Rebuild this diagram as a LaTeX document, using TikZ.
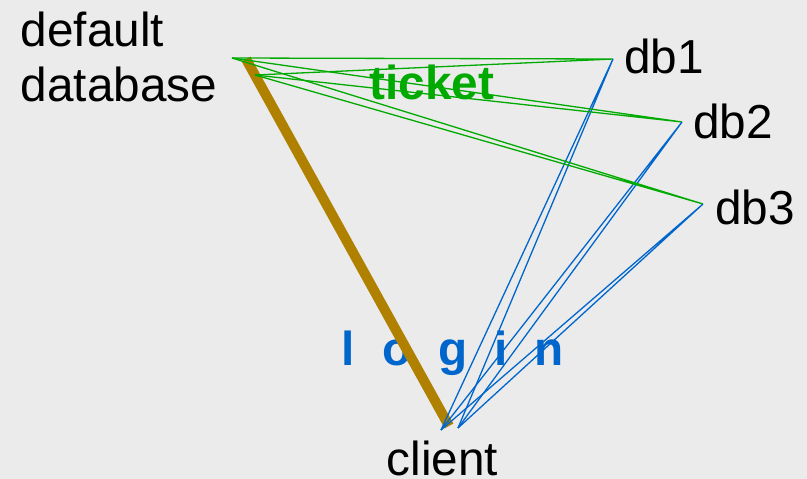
\documentclass[tikz,border=0pt]{standalone}
\usepackage{fontspec}
\setmainfont{Liberation Sans}
\usepackage{xcolor}
\usetikzlibrary{positioning}

\definecolor{bgcol}{HTML}{EBEBEB}
\definecolor{tkgreen}{HTML}{00AA00}
\definecolor{lgblue}{HTML}{0066CC}
\definecolor{rootbrown}{HTML}{B08000}

\newcommand{\spacedgap}{\hspace{27pt}}

\begin{document}
\begin{tikzpicture}[
  x=1pt, y=-1pt,
  label/.style   = {inner sep=0pt, font=\fontsize{47.7}{55}\selectfont},
  tag/.style     = {label, font=\fontsize{47.7}{55}\selectfont\bfseries},
  ticketln/.style = {draw=tkgreen, line width=1.3pt},
  loginln/.style  = {draw=lgblue, line width=1.3pt},
  rootln/.style   = {draw=rootbrown, line width=10pt}
]
  \useasboundingbox[fill=bgcol] (0,0) rectangle (807,479);

  % labels
  \node[label, anchor=north west, align=left] (default) at (20.5,11.5) {default\\database};
  \node[label, anchor=base west] (db1) at (624,73)  {db1};
  \node[label, anchor=base west] (db2) at (693,138) {db2};
  \node[label, anchor=base west] (db3) at (715,224) {db3};
  \node[label, anchor=base west] (client) at (386.5,475) {client};
  \node[tag, text=tkgreen, anchor=base west] (ticket) at (369.5,99) {ticket};
  \node[tag, text=lgblue, anchor=base west] (login) at (341.7,365)
    {l\spacedgap o\spacedgap g\spacedgap i\spacedgap n};

  % line ends
  \coordinate (dfA) at (232,58);
  \coordinate (dfB) at (255,75);
  \coordinate (clA) at (441,430);
  \coordinate (clB) at (458,428);
  \coordinate (pdb1) at (613,59);
  \coordinate (pdb2) at (682,122);
  \coordinate (pdb3) at (703,204);
  \coordinate (rtop) at (246,59);
  \coordinate (rbot) at (449,426);

  \draw[rootln] (rtop) -- (rbot);

  \foreach \d in {pdb1,pdb2,pdb3} {
    \draw[ticketln] (dfA) -- (\d) -- (dfB);
    \draw[loginln]  (clA) -- (\d) -- (clB);
  }
\end{tikzpicture}
\end{document}
